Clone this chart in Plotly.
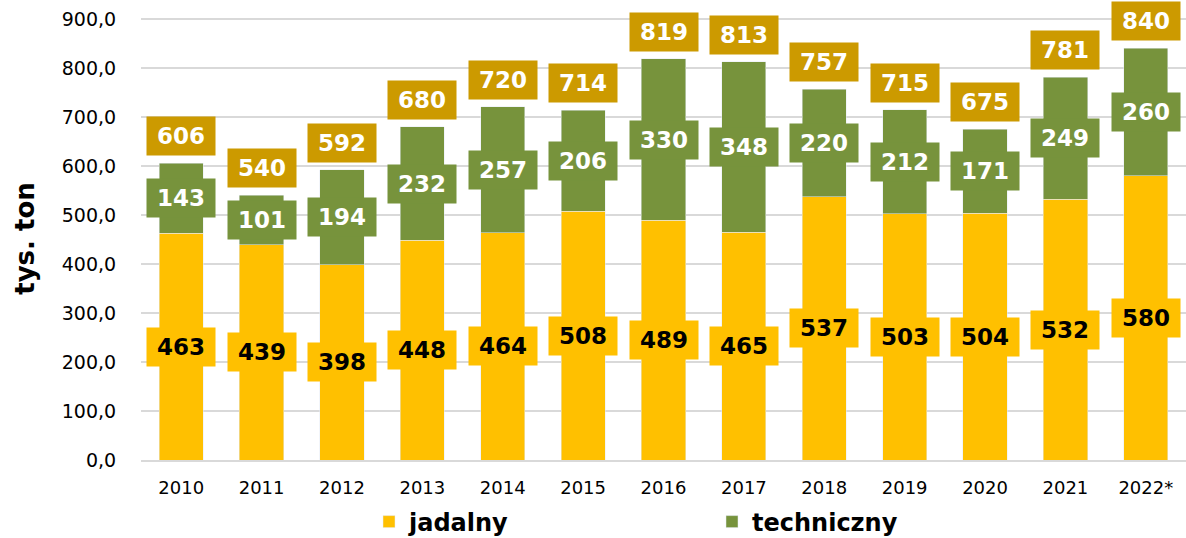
import plotly.graph_objects as go

years = ["2010", "2011", "2012", "2013", "2014", "2015", "2016", "2017", "2018", "2019", "2020", "2021", "2022*"]
jadalny = [463, 439, 398, 448, 464, 508, 489, 465, 537, 503, 504, 532, 580]
techniczny = [143, 101, 194, 232, 257, 206, 330, 348, 220, 212, 171, 249, 260]
totals = [606, 540, 592, 680, 720, 714, 819, 813, 757, 715, 675, 781, 840]
y_ticks = [0, 100, 200, 300, 400, 500, 600, 700, 800, 900]
y_ticklabels = ["0,0", "100,0", "200,0", "300,0", "400,0", "500,0", "600,0", "700,0", "800,0", "900,0"]

YELLOW = "#FFC000"
GREEN = "#77933C"
GOLD = "#CC9A00"
FONT = "Verdana, DejaVu Sans, sans-serif"

fig = go.Figure()
fig.add_trace(go.Bar(x=years, y=jadalny, name="<b>jadalny</b>", marker=dict(color=YELLOW), width=0.55))
fig.add_trace(go.Bar(x=years, y=techniczny, name="<b>techniczny</b>", marker=dict(color=GREEN), width=0.55))

ann = []
for i, yr in enumerate(years):
    ann.append(dict(x=i, y=jadalny[i] / 2, text=f"<b>{jadalny[i]}</b>", showarrow=False,
                    bgcolor=YELLOW, width=68, height=38, borderpad=0,
                    font=dict(family=FONT, size=23, color="black")))
    ann.append(dict(x=i, y=jadalny[i] + techniczny[i] / 2, text=f"<b>{techniczny[i]}</b>", showarrow=False,
                    bgcolor=GREEN, width=68, height=38, borderpad=0,
                    font=dict(family=FONT, size=23, color="white")))
    ann.append(dict(x=i, y=totals[i], text=f"<b>{totals[i]}</b>", showarrow=False,
                    yanchor="bottom", yshift=7,
                    bgcolor=GOLD, width=68, height=38, borderpad=0,
                    font=dict(family=FONT, size=23, color="white")))

fig.update_layout(
    barmode="stack",
    width=1186, height=538,
    margin=dict(l=141, r=0, t=17, b=78, autoexpand=False),
    plot_bgcolor="white", paper_bgcolor="white",
    font=dict(family=FONT, color="black"),
    annotations=ann,
    showlegend=True,
    hovermode=False,
    legend=dict(orientation="h", traceorder="normal", x=(369 - 141) / 1045, xanchor="left",
                y=-62 / 443, yanchor="middle",
                entrywidth=298, entrywidthmode="pixels",
                font=dict(family=FONT, size=24, color="black"), itemclick=False),
    xaxis=dict(type="category", categoryorder="array", categoryarray=years, range=[-0.5, 12.5],
               tickfont=dict(size=18), ticks="outside", ticklen=10, tickcolor="rgba(0,0,0,0)",
               showline=True, linecolor="#D9D9D9", linewidth=2, automargin=False),
    yaxis=dict(range=[0, 904], tickmode="array", tickvals=y_ticks, ticktext=y_ticklabels,
               tickfont=dict(size=19),
               gridcolor="#D9D9D9", gridwidth=2, zeroline=False, automargin=False,
               ticks="outside", ticklen=20, tickcolor="rgba(0,0,0,0)",
               title=dict(text="<b>tys. ton</b>", font=dict(size=26), standoff=19)),
)

fig.write_html("out.html", config={"displayModeBar": False},
               post_script="document.body.style.margin='0';")
